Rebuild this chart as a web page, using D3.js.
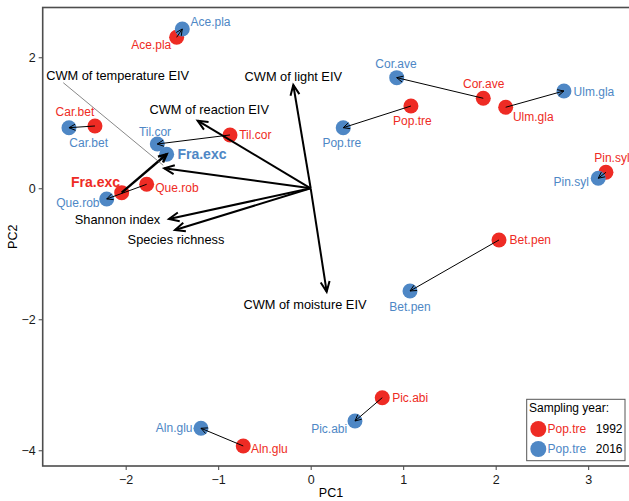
<!DOCTYPE html>
<html><head><meta charset="utf-8">
<script src="https://cdn.jsdelivr.net/npm/d3@7"></script>
<style>body{margin:0;background:#fff}svg{display:block;font-family:"Liberation Sans",Arial,sans-serif}</style>
</head><body><svg id="c" width="629" height="501"></svg>
<script>
// ---- data ----
const species = ["Ace.pla","Car.bet","Til.cor","Fra.exc","Que.rob","Cor.ave","Pop.tre","Ulm.gla","Pin.syl","Bet.pen","Pic.abi","Aln.glu"];
const pc1_1992 = [-1.449,-2.332,-0.872,-2.043,-1.773,1.866,1.084,2.108,3.192,2.036,0.774,-0.729];
const pc2_1992 = [2.305,0.951,0.814,-0.067,0.061,1.374,1.256,1.237,0.244,-0.789,-3.197,-3.934];
const pc1_2016 = [-1.388,-2.613,-1.658,-1.557,-2.205,0.930,0.352,2.738,3.109,1.074,0.479,-1.186];
const pc2_2016 = [2.432,0.925,0.676,0.519,-0.163,1.689,0.925,1.486,0.153,-1.568,-3.553,-3.664];
const vecNames = ["CWM of light EIV","CWM of moisture EIV","CWM of reaction EIV","CWM of temperature EIV","Shannon index","Species richness"];
const vecPC1 = [-0.188,0.173,-1.222,-1.583,-1.532,-1.467];
const vecPC2 = [1.577,-1.579,1.032,0.305,-0.469,-0.637];
const xTicks = [-2,-1,0,1,2,3];
const yTicks = [-4,-2,0,2];
const years = ["1992","2016"];
const legendKey = "Pop.tre";
const highlight = "Fra.exc";

// ---- layout (pixel offsets of repelled labels) ----
const off1992 = [[-25.4,7.7],[-20,-14.3],[25.3,0],[-26.2,-11],[30.3,3.4],[0.4,-14.3],[1.5,14.7],[27.6,10],[6,-14],[31.3,0],[27.9,0.6],[26.2,3]];
const off2016 = [[28.2,-7],[19.7,15],[-2.3,-12.3],[35.3,-0.3],[-28.9,4.3],[-0.7,-13.7],[-1.5,15],[30,0.7],[-27.1,3.4],[0,15.7],[-25.8,8],[-26.8,0]];
const vecOff = [[0,-8],[-21.7,12.6],[11.6,-11.4],[-46.6,-93],[-51.5,1],[1,10]];
const RED = "#EE2B24", BLUE = "#4E87C5";

const svg = d3.select("#c");
const L = 42.7, R = 631, T = 7.5, B = 466;
const x = d3.scaleLinear().domain([-2.897, 3.46]).range([L, L + 6.357*92.5]);
const y = d3.scaleLinear().domain([-4.24, 2.76]).range([B, T]);

const defs = svg.append("defs");
defs.append("clipPath").attr("id","clip").append("rect").attr("x",L).attr("y",T).attr("width",R-L).attr("height",B-T);

// axes
const fmt = d3.format("d");
const ax = svg.append("g").attr("transform",`translate(0,${B})`)
  .call(d3.axisBottom(x).tickValues(xTicks).tickFormat(fmt).tickSize(4).tickSizeOuter(0));
const ay = svg.append("g").attr("transform",`translate(${L},0)`)
  .call(d3.axisLeft(y).tickValues(yTicks).tickFormat(fmt).tickSize(4).tickSizeOuter(0));
[ax,ay].forEach(a=>{
  a.select(".domain").remove();
  a.selectAll(".tick line").attr("stroke","#444");
  a.selectAll(".tick text").attr("fill","#1a1a1a").style("font-size","12.5px").style("font-family","Liberation Sans, Arial, sans-serif");
});
ax.selectAll(".tick text").attr("dy","0.9em");

svg.append("text").attr("x",331).attr("y",492.5).attr("dy","0.35em").attr("text-anchor","middle").style("font-size","12.5px").text("PC1");
svg.append("text").attr("transform",`translate(13,${(T+B)/2}) rotate(-90)`).attr("dy","0.35em").attr("text-anchor","middle").style("font-size","12.5px").text("PC2");

const g = svg.append("g").attr("clip-path","url(#clip)");

function arrowHead(sel, x0,y0,x1,y1,len,ang,width){
  const a = Math.atan2(y1-y0,x1-x0);
  const p1=[x1-len*Math.cos(a-ang), y1-len*Math.sin(a-ang)];
  const p2=[x1-len*Math.cos(a+ang), y1-len*Math.sin(a+ang)];
  sel.append("path").attr("d",`M${p1}L${x1},${y1}L${p2}`).attr("fill","none").attr("stroke","#000").attr("stroke-width",width).attr("stroke-linejoin","miter");
}

// points
const idx = d3.range(species.length);
g.selectAll("circle.r").data(idx).join("circle").attr("class","r")
  .attr("cx",i=>x(pc1_1992[i])).attr("cy",i=>y(pc2_1992[i])).attr("r",7.5).attr("fill",RED);
g.selectAll("circle.b").data(idx).join("circle").attr("class","b")
  .attr("cx",i=>x(pc1_2016[i])).attr("cy",i=>y(pc2_2016[i])).attr("r",7.5).attr("fill",BLUE);

// change arrows
idx.forEach(i=>{
  const x0=x(pc1_1992[i]), y0=y(pc2_1992[i]), x1=x(pc1_2016[i]), y1=y(pc2_2016[i]);
  const hi = species[i]===highlight;
  const w = hi?2.4:1;
  g.append("line").attr("x1",x0).attr("y1",y0).attr("x2",x1).attr("y2",y1).attr("stroke","#000").attr("stroke-width",w);
  arrowHead(g,x0,y0,x1,y1,hi?9:7,0.45,w);
});

// biplot vectors
const x0=x(0), y0=y(0);
vecNames.forEach((n,i)=>{
  const x1=x(vecPC1[i]), y1=y(vecPC2[i]);
  g.append("line").attr("x1",x0).attr("y1",y0).attr("x2",x1).attr("y2",y1).attr("stroke","#000").attr("stroke-width",2);
  arrowHead(g,x0,y0,x1,y1,11,0.42,2);
});
// leader for temperature label
{
  const i=3, tx=x(vecPC1[i]), ty=y(vecPC2[i]);
  const lx=tx+vecOff[i][0], ly=ty+vecOff[i][1];
  g.append("line").attr("x1",lx-54.4).attr("y1",ly+7.4).attr("x2",tx-1).attr("y2",ty-3).attr("stroke","#555").attr("stroke-width",0.7);
}
vecNames.forEach((n,i)=>{
  g.append("text").attr("x",x(vecPC1[i])+vecOff[i][0]).attr("y",y(vecPC2[i])+vecOff[i][1])
   .attr("dy","0.35em").attr("text-anchor","middle").style("font-size","12.8px").attr("fill","#000").text(n);
});

// point labels
idx.forEach(i=>{
  const hi = species[i]===highlight;
  [[pc1_1992,pc2_1992,off1992,RED],[pc1_2016,pc2_2016,off2016,BLUE]].forEach(([px,py,off,col])=>{
    g.append("text").attr("x",x(px[i])+off[i][0]).attr("y",y(py[i])+off[i][1]).attr("dy","0.35em")
     .attr("text-anchor","middle").attr("fill",col)
     .style("font-size",hi?"14px":"12px").style("font-weight",hi?"bold":"normal").text(species[i]);
  });
});

// panel border
svg.append("rect").attr("x",L).attr("y",T).attr("width",R-L).attr("height",B-T).attr("fill","none").attr("stroke","#4d4d4d").attr("stroke-width",1.6);

// legend
const lg = svg.append("g");
lg.append("rect").attr("x",526.7).attr("y",399.3).attr("width",98.3).attr("height",61.4).attr("fill","#fff").attr("stroke","#555").attr("stroke-width",1);
lg.append("text").attr("x",529).attr("y",407.5).attr("dy","0.35em").style("font-size","12px").text("Sampling year:");
years.forEach((yr,k)=>{
  const cy = 429 + k*20;
  const col = k===0?RED:BLUE;
  lg.append("circle").attr("cx",538.3).attr("cy",cy).attr("r",8).attr("fill",col);
  lg.append("text").attr("x",547.5).attr("y",cy).attr("dy","0.35em").attr("fill",col).style("font-size","12px").text(legendKey);
  lg.append("text").attr("x",622.5).attr("y",cy).attr("dy","0.35em").attr("text-anchor","end").style("font-size","12px").text(yr);
});
</script></body></html>
